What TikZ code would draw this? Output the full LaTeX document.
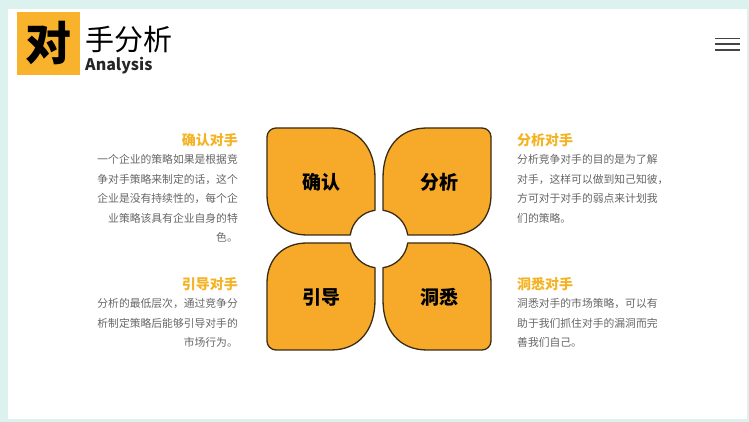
\documentclass[tikz,border=0pt]{standalone}
\usepackage{fontspec}
\newfontfamily\cjk{Noto Sans CJK SC}
\definecolor{framecol}{HTML}{DCF2EE}
\definecolor{gold}{HTML}{F9B22B}
\definecolor{petalfill}{HTML}{F7AA2A}
\definecolor{petalline}{HTML}{3A2C14}
\definecolor{headcol}{HTML}{F4B324}
\definecolor{bodycol}{HTML}{666666}
\definecolor{menucol}{HTML}{444444}
\tikzset{
  leafline/.style={fill=petalfill,draw=petalline,line width=1.3pt,line join=round},
  leaftext/.style={font=\cjk\bfseries\fontsize{19}{19}\selectfont,text=black,inner sep=0pt},
  headtext/.style={font=\cjk\bfseries\fontsize{14}{14}\selectfont,text=headcol,inner sep=0pt},
  bodytext/.style={font=\cjk\fontsize{10.8}{19.5}\selectfont,text=bodycol,inner sep=0pt},
  menuline/.style={draw=menucol,line width=1.6pt},
  leaf/.pic={
    \path[leafline] (48,111) -- (103,111) arc[start angle=90,end angle=0,radius=9pt]
      -- (112,44) .. controls (112,20) and (96,4) .. (72,4)
      -- (28.72,4) arc[start angle=7.93,end angle=82.07,radius=29pt]
      -- (4,61) .. controls (4,91) and (20,111) .. (48,111) -- cycle;
  }
}
\begin{document}
\begin{tikzpicture}[x=1pt,y=1pt]
\useasboundingbox (0,0) rectangle (749,422);
\fill[framecol] (0,0) rectangle (749,422);
\fill[white] (8,3) rectangle (747,413);
% title
\node[fill=gold,minimum size=63pt,inner sep=0pt] (sq) at (48,378.5) {};
\node[font=\cjk\bfseries\fontsize{46}{46}\selectfont,inner sep=0pt] (dui) at (sq.center) {对};
\node[font=\cjk\fontsize{29}{29}\selectfont,anchor=west,inner sep=0pt] (title) at (85,382) {手分析};
\node[font=\cjk\bfseries\fontsize{16}{16}\selectfont,anchor=west,inner sep=0pt,text=black!85] (analysis) at (85,356) {Analysis};
% menu
\draw[menuline] (715,383.5) -- (740,383.5);
\draw[menuline] (715,378) -- (740,378);
\draw[menuline] (715,372) -- (740,372);
% petals
\begin{scope}[shift={(379,183)}]
  \pic[xscale=-1] {leaf};
  \pic {leaf};
  \pic[xscale=-1,yscale=-1] {leaf};
  \pic[yscale=-1] {leaf};
  \coordinate (ctr) at (0,0);
\end{scope}
\node[leaftext] (p1) at (321,239.5) {确认};
\node[leaftext] (p2) at (439,239.5) {分析};
\node[leaftext] (p3) at (321,124.5) {引导};
\node[leaftext] (p4) at (439,124.5) {洞悉};
% text blocks
\node[headtext,anchor=east] (h1) at (238,282) {确认对手};
\node[bodytext,anchor=north east,align=right] (b1) at (238,267.5)
  {一个企业的策略如果是根据竞\\争对手策略来制定的话，这个\\企业是没有持续性的，每个企\\业策略该具有企业自身的特\\色。};
\node[headtext,anchor=west] (h2) at (517,282) {分析对手};
\node[bodytext,anchor=north west,align=left] (b2) at (517,267.5)
  {分析竞争对手的目的是为了解\\对手，这样可以做到知己知彼，\\方可对于对手的弱点来计划我\\们的策略。};
\node[headtext,anchor=west] (h4) at (517,138) {洞悉对手};
\node[headtext,anchor=east] (h3) at (238,138) {引导对手};
\node[bodytext,anchor=north east,align=right] (b3) at (238,123.5)
  {分析的最低层次，通过竞争分\\析制定策略后能够引导对手的\\市场行为。};
\node[bodytext,anchor=north west,align=left] (b4) at (517,123.5)
  {洞悉对手的市场策略，可以有\\助于我们抓住对手的漏洞而完\\善我们自己。};
\end{tikzpicture}
\end{document}
